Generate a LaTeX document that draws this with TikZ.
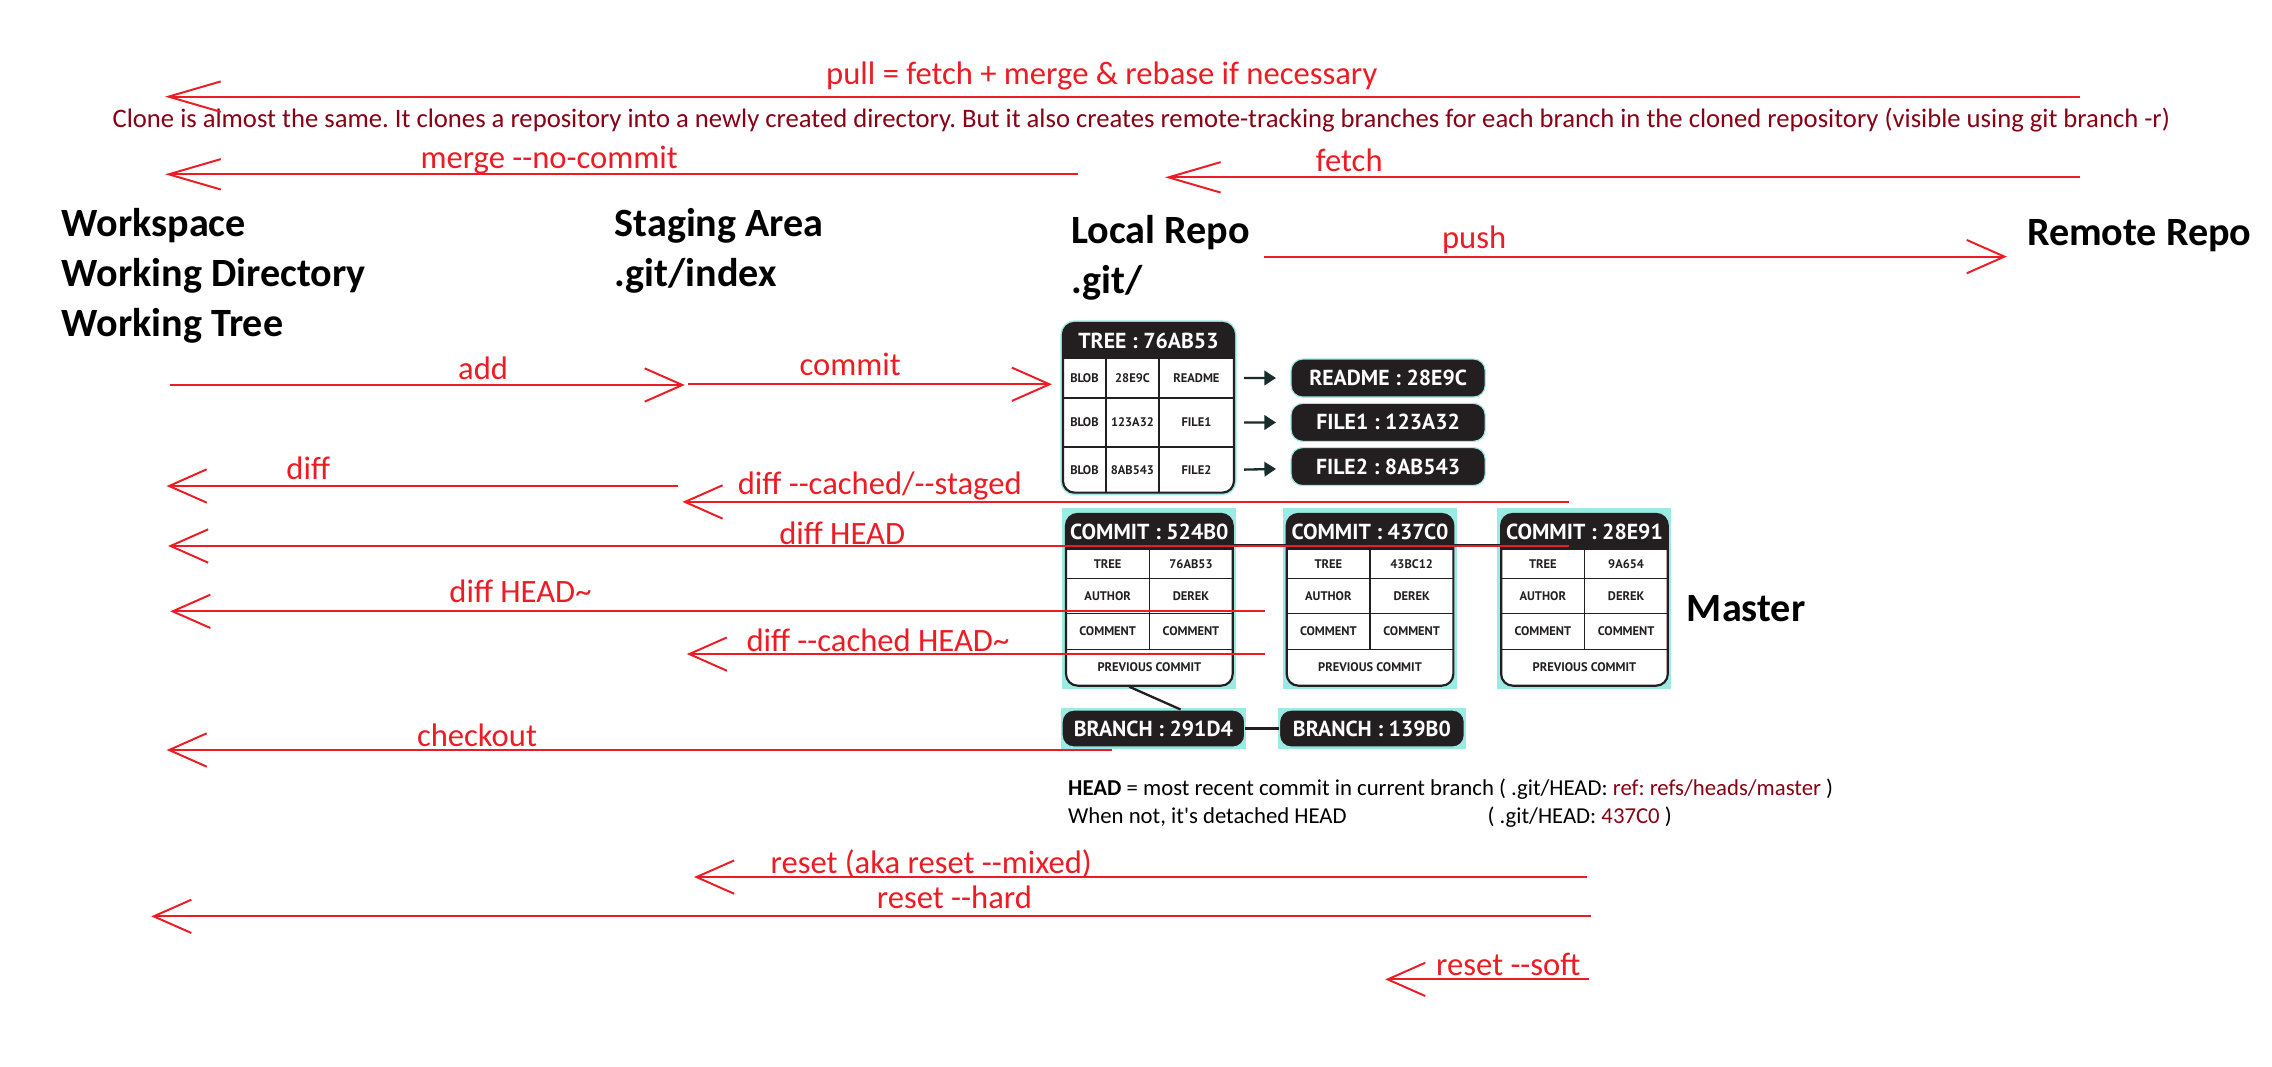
\documentclass[tikz,border=0pt]{standalone}
\usepackage{fontspec}
\setmainfont{Carlito}
\newfontfamily\boxfont{PT Sans}
\usetikzlibrary{arrows.meta}
\usepackage{xcolor}
\definecolor{gitred}{RGB}{237,28,36}
\definecolor{clonered}{RGB}{136,0,21}
\definecolor{boxdark}{RGB}{35,31,32}
\definecolor{aqua}{RGB}{155,234,227}
\definecolor{blobink}{RGB}{24,44,44}
\def\twodash{-\kern0pt-}
\frenchspacing
\tikzset{
  objframe/.style={rectangle,rounded corners=8pt,draw=boxdark,line width=1.5pt,fill=white,inner sep=0pt},
  pill/.style={rectangle,rounded corners=8pt,fill=boxdark,draw=aqua,line width=0.8pt,text=white,inner sep=0pt,font=\boxfont\bfseries\fontsize{15}{15}\selectfont},
  headtext/.style={text=white,inner sep=0pt,font=\boxfont\bfseries\fontsize{15}{15}\selectfont},
  celltext/.style={inner sep=0pt,text=boxdark,font=\boxfont\bfseries\fontsize{8.6}{8.6}\selectfont},
  cellline/.style={draw=boxdark,line width=1pt},
}
% commit object: name, left x, hash, tree hash
\newcommand{\commitobj}[4]{
  \fill [aqua] (#2-2.7,350.7) rectangle (#2+117.5,475.6);
  \node (#1) at (#2+57.5,413.95) [objframe,minimum width=115pt,minimum height=118.5pt] {};
  \begin{scope}
    \clip (#2-3,350) rectangle (#2+118,379);
    \fill [boxdark,rounded corners=8pt] (#2,354.7) rectangle (#2+115,473.2);
  \end{scope}
  \foreach \y in {379,399.4,423.3,448.1}
    \draw [cellline] (#2,\y) -- (#2+115,\y);
  \draw [cellline] (#2+57.5,379) -- (#2+57.5,448.1);
  \node (#1-head) at (#2+57.5,367) [headtext] {COMMIT : #3};
  \node (#1-k1) at (#2+28.75,389.2) [celltext] {TREE};
  \node (#1-v1) at (#2+86.25,389.2) [celltext] {#4};
  \node (#1-k2) at (#2+28.75,411.35) [celltext] {AUTHOR};
  \node (#1-v2) at (#2+86.25,411.35) [celltext] {DEREK};
  \node (#1-k3) at (#2+28.75,435.7) [celltext] {COMMENT};
  \node (#1-v3) at (#2+86.25,435.7) [celltext] {COMMENT};
  \node (#1-prev) at (#2+57.5,460.65) [celltext] {PREVIOUS COMMIT};
  \coordinate (#1-l) at (#2,375.7);
  \coordinate (#1-r) at (#2+115,375.7);
}

\begin{document}
\begin{tikzpicture}[x=1pt,y=-1pt,
  title/.style={anchor=base west,inner sep=0pt,font=\bfseries\fontsize{27.7}{33}\selectfont},
  cmdlabel/.style={anchor=base west,inner sep=0pt,text=gitred,font=\fontsize{22.5}{27}\selectfont},
  note/.style={anchor=base west,inner sep=0pt,font=\fontsize{15.7}{18}\selectfont},
  cmd/.style={draw=gitred,line width=1.35pt,-{Straight Barb[length=26pt,width=23pt]}},
  cmdlong/.style={cmd,-{Straight Barb[length=36pt,width=21pt]}},
  blobarrow/.style={draw=blobink,line width=1.6pt,shorten <=7pt,shorten >=10pt,-{Triangle[length=8pt,width=10pt]}}]
	\useasboundingbox (0,0) rectangle (1568,735.7);
	\fill [white] (0,0) rectangle (1568,735.7);

	% the four areas
	\node (work1) at (42.5,163.3) [title] {Workspace};
	\node (work2) at (42.5,197.8) [title] {Working Directory};
	\node (work3) at (42.5,232.3) [title] {Working Tree};
	\node (stage1) at (424,163.3) [title] {Staging Area};
	\node (stage2) at (424,197.8) [title] {.git/index};
	\node (local1) at (739,167.9) [title] {Local Repo};
	\node (local2) at (739,202.4) [title] {.git/};
	\node (remote) at (1398.7,169.1) [title] {Remote Repo};
	\node (master) at (1164,428.6) [title] {Master};

	% tree object
	\node (tree) at (792.6,281.45) [objframe,minimum width=118pt,minimum height=117.1pt,preaction={draw=aqua,line width=3.5pt}] {};
	\begin{scope}
		\clip (730,219) rectangle (855,247);
		\fill [boxdark,rounded corners=8pt] (733.6,222.9) rectangle (851.6,340);
	\end{scope}
	\foreach \y in {247,274.7,308.5}
		\draw [cellline] (733.6,\y) -- (851.6,\y);
	\foreach \x in {763.3,799.8}
		\draw [cellline] (\x,247) -- (\x,340);
	\node (treehead) at (792.6,235) [headtext] {TREE : 76AB53};
	\foreach \r/\y/\h/\f in {1/260.85/28E9C/README,2/291.6/123A32/FILE1,3/324.25/8AB543/FILE2} {
		\node (t\r-kind) at (748.45,\y) [celltext] {BLOB};
		\node (t\r-hash) at (781.55,\y) [celltext] {\h};
		\node (t\r-name) at (825.7,\y) [celltext] {\f};
		\coordinate (t\r) at (851.6,\y);
	}

	% blobs
	\node (readme) at (958,260.9) [pill,minimum width=134pt,minimum height=26.2pt] {README : 28E9C};
	\node (file1) at (958,291.5) [pill,minimum width=134pt,minimum height=26.2pt] {FILE1 : 123A32};
	\node (file2) at (958,322) [pill,minimum width=134pt,minimum height=26.2pt] {FILE2 : 8AB543};
	\draw [blobarrow] (t1) -- (readme);
	\draw [blobarrow] (t2) -- (file1);
	\draw [blobarrow] (t3) -- (file2);

	% commits and branches
	\commitobj{c1}{735.7}{524B0}{76AB53}
	\commitobj{c2}{888}{437C0}{43BC12}
	\commitobj{c3}{1036}{28E91}{9A654}
	\draw [boxdark,line width=1pt,shorten >=-5pt] (c1-r) -- (c3-l);
	\fill [aqua] (732,488.6) rectangle (860,517);
	\fill [aqua] (882,488.6) rectangle (1011.7,517);
	\node (br1) at (796,502.8) [pill,minimum width=126pt,minimum height=25.5pt] {BRANCH : 291D4};
	\node (br2) at (946.8,502.8) [pill,minimum width=127.5pt,minimum height=25.5pt] {BRANCH : 139B0};
	\draw [boxdark,line width=1.6pt] (c1.-103.5) -- (br1.35.6);
	\draw [boxdark,line width=1.8pt] (br1) -- (br2);

	% HEAD
	\node (headnote) at (737,548.7) [note] {\textbf{HEAD} = most recent commit in current branch ( .git/HEAD: \textcolor{clonered}{ref: refs/heads/master} )};
	\node (detached) at (737,568.2) [note] {When not, it\textquotesingle s detached HEAD};
	\node (detachedref) at (1026.5,568.2) [note] {( .git/HEAD: \textcolor{clonered}{437C0} )};

	% commands
	\node (clone) at (77.5,87.9) [note,text=clonered,font=\fontsize{18.4}{21}\selectfont] {Clone is almost the same. It clones a repository into a newly created directory. But it also creates remote-tracking branches for each branch in the cloned repository (visible using git branch -r)};
	\foreach \n/\y/\a/\b in {pull/66.7/1435.5/113.9,merge/120.3/744/114,fetch/122.4/1435.5/804} {
		\coordinate (\n-a) at (\a,\y);
		\coordinate (\n-b) at (\b,\y);
		\draw [cmdlong] (\n-a) -- (\n-b);
	}
	\foreach \n/\y/\a/\b in {push/177.1/872/1385,add/265.7/117.5/472.6,commit/265.2/475/726,
		diff/335.4/467.6/115,cached/346.4/1083/471,head/376.8/1083/116,headt/421.9/873/117.5,
		cachedt/451.4/873/474,checkout/517.6/767.6/115,mixed/605.3/1095/479,hard/632.4/1098/104.4,
		soft/675.9/1096.5/956} {
		\coordinate (\n-a) at (\a,\y);
		\coordinate (\n-b) at (\b,\y);
		\draw [cmd] (\n-a) -- (\n-b);
	}
	\node (pulltxt) at (570,58) [cmdlabel] {pull = fetch + merge \& rebase if necessary};
	\node (mergetxt) at (290,116.2) [cmdlabel] {merge \twodash no-commit};
	\node (fetchtxt) at (908,118.5) [cmdlabel] {fetch};
	\node (pushtxt) at (995,171.5) [cmdlabel] {push};
	\node (addtxt) at (316,262) [cmdlabel] {add};
	\node (committxt) at (551.6,259.3) [cmdlabel] {commit};
	\node (difftxt) at (197.5,330.6) [cmdlabel] {diff};
	\node (cachedtxt) at (509,341) [cmdlabel] {diff \twodash cached/\twodash staged};
	\node (headtxt) at (537.6,375.5) [cmdlabel] {diff HEAD};
	\node (headttxt) at (310,416) [cmdlabel] {diff HEAD\textasciitilde};
	\node (cachedttxt) at (515,449.7) [cmdlabel] {diff \twodash cached HEAD\textasciitilde};
	\node (checkouttxt) at (287.6,515) [cmdlabel] {checkout};
	\node (mixedtxt) at (531.6,602.7) [cmdlabel] {reset (aka reset \twodash mixed)};
	\node (hardtxt) at (605,626.8) [cmdlabel] {reset \twodash hard};
	\node (softtxt) at (991,673) [cmdlabel] {reset \twodash soft};
\end{tikzpicture}
\end{document}
